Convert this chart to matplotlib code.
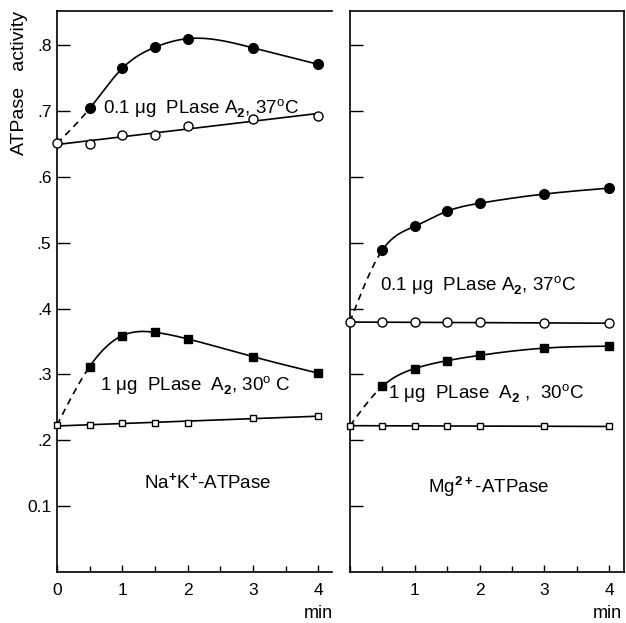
import numpy as np
import matplotlib
matplotlib.use("Agg")
import matplotlib.pyplot as plt
from matplotlib.ticker import MultipleLocator

plt.rcParams['font.family'] = ['Liberation Sans', 'DejaVu Sans']
plt.rcParams['mathtext.fontset'] = 'custom'
plt.rcParams['mathtext.rm'] = 'Liberation Sans'
plt.rcParams['mathtext.bf'] = 'Liberation Sans:bold'

# time (min)
t = [0, 0.5, 1, 1.5, 2, 3, 4]
t_treat = [0.5, 1, 1.5, 2, 3, 4]

# Na+K+-ATPase panel
nak_ctrl_circ = [0.651, 0.650, 0.663, 0.664, 0.677, 0.688, 0.693]
nak_plase_circ = [0.704, 0.765, 0.797, 0.810, 0.796, 0.771]
nak_ctrl_sq = [0.223, 0.223, 0.226, 0.227, 0.227, 0.234, 0.237]
nak_plase_sq = [0.312, 0.359, 0.364, 0.354, 0.327, 0.302]

# Mg2+-ATPase panel
mg_ctrl_circ = [0.380, 0.379, 0.379, 0.379, 0.379, 0.378, 0.378]
mg_plase_circ = [0.489, 0.525, 0.548, 0.560, 0.574, 0.583]
mg_ctrl_sq = [0.222, 0.222, 0.222, 0.222, 0.222, 0.221, 0.221]
mg_plase_sq = [0.282, 0.309, 0.321, 0.329, 0.340, 0.343]

ytick_vals = [0.1, 0.2, 0.3, 0.4, 0.5, 0.6, 0.7, 0.8]
ytick_labels = ['0.1', '.2', '.3', '.4', '.5', '.6', '.7', '.8']


def spline(x, y, n=300):
    # natural cubic spline through the points
    x = np.asarray(x, float)
    y = np.asarray(y, float)
    h = np.diff(x)
    m = len(x)
    A = np.zeros((m, m))
    r = np.zeros(m)
    A[0, 0] = A[-1, -1] = 1
    for i in range(1, m - 1):
        A[i, i - 1] = h[i - 1]
        A[i, i] = 2 * (h[i - 1] + h[i])
        A[i, i + 1] = h[i]
        r[i] = 3 * ((y[i + 1] - y[i]) / h[i] - (y[i] - y[i - 1]) / h[i - 1])
    c = np.linalg.solve(A, r)
    b = (y[1:] - y[:-1]) / h - h * (2 * c[:-1] + c[1:]) / 3
    d = (c[1:] - c[:-1]) / (3 * h)
    xs = np.linspace(x[0], x[-1], n)
    i = np.clip(np.searchsorted(x, xs) - 1, 0, m - 2)
    dx = xs - x[i]
    return xs, y[i] + b[i] * dx + c[i] * dx ** 2 + d[i] * dx ** 3


def draw(ax, ctrl, plase, marker):
    # control: straight line + open markers
    k = np.polyfit(t, ctrl, 1)
    xs = np.array([t[0], t[-1]])
    ax.plot(xs, np.polyval(k, xs), color='black', lw=1.2, zorder=2)
    ms = 6.5 if marker == 'o' else 5
    ax.plot(t, ctrl, marker, ms=ms, mfc='white', mec='black', mew=1.0,
            ls='none', zorder=4, clip_on=False)
    # treated: dashed start from control value, then smooth curve
    xs, ys = spline([t[0]] + t_treat, [ctrl[0]] + plase)
    ax.plot(xs[xs <= t_treat[0]], ys[xs <= t_treat[0]], color='black',
            lw=1.2, ls=(0, (4, 3)), zorder=2)
    ax.plot(xs[xs >= t_treat[0]], ys[xs >= t_treat[0]], color='black',
            lw=1.2, zorder=2)
    ax.plot(t_treat, plase, marker, ms=ms + 0.5, color='black', ls='none',
            zorder=3)


def style(ax, xmax, show_ylabels, xticks):
    ax.set_xlim(0, xmax)
    ax.set_ylim(0, 0.852)
    ax.spines['right'].set_visible(not show_ylabels)
    for s in ax.spines.values():
        s.set_linewidth(1.2)
    ax.set_yticks(ytick_vals)
    if show_ylabels:
        ax.set_yticklabels(ytick_labels)
    else:
        ax.set_yticklabels([])
    ax.set_xticks(xticks)
    ax.set_xticklabels([str(v) for v in xticks])
    ax.xaxis.set_minor_locator(MultipleLocator(0.5))
    ax.tick_params(axis='y', direction='in', length=9, width=1.0,
                   labelsize=12.5, pad=4)
    ax.tick_params(axis='x', which='major', direction='in', length=5,
                   width=1.0, labelsize=12.5, pad=8)
    ax.tick_params(axis='x', which='minor', direction='in', length=4,
                   width=1.0)


fig = plt.figure(figsize=(6.26, 6.23), dpi=100)
ax1 = fig.add_axes([57 / 626, 51 / 623, 275 / 626, 561 / 623])
ax2 = fig.add_axes([350 / 626, 51 / 623, 274 / 626, 561 / 623])

draw(ax1, nak_ctrl_circ, nak_plase_circ, 'o')
draw(ax1, nak_ctrl_sq, nak_plase_sq, 's')
draw(ax2, mg_ctrl_circ, mg_plase_circ, 'o')
draw(ax2, mg_ctrl_sq, mg_plase_sq, 's')

style(ax1, 4.21, True, [0, 1, 2, 3, 4])
style(ax2, 4.23, False, [1, 2, 3, 4])

fs = 13.5
ax1.text(0.7, 0.704, r'0.1 μg  PLase A$_\mathbf{2}$, 37$^{\rm o}$C',
         fontsize=fs, va='center', ha='left')
ax1.text(0.66, 0.283, r'1 μg  PLase  A$_\mathbf{2}$, 30$^{\rm o}$ C',
         fontsize=fs, va='center', ha='left')
ax1.text(2.3, 0.135, r'Na$^\mathbf{+}$K$^\mathbf{+}$-ATPase',
         fontsize=fs, va='center', ha='center')
ax2.text(0.46, 0.435, r'0.1 μg  PLase A$_\mathbf{2}$, 37$^{\rm o}$C',
         fontsize=fs, va='center', ha='left')
ax2.text(0.59, 0.271, r'1 μg  PLase  A$_\mathbf{2}$ ,  30$^{\rm o}$C',
         fontsize=fs, va='center', ha='left')
ax2.text(2.13, 0.129, r'Mg$^\mathbf{2+}$-ATPase',
         fontsize=fs, va='center', ha='center')

fig.text(318 / 626, 1 - 613 / 623, 'min', fontsize=13, ha='center', va='center')
fig.text(607 / 626, 1 - 613 / 623, 'min', fontsize=13, ha='center', va='center')
fig.text(20 / 626, 1 - 83 / 623, 'ATPase   activity', fontsize=14,
         rotation=90, ha='center', va='center')

fig.savefig('out.png', dpi=100)
